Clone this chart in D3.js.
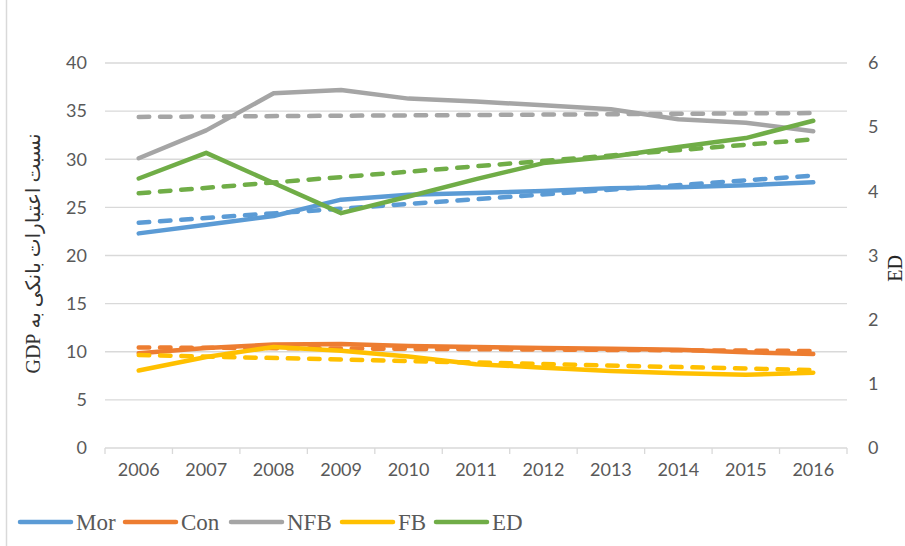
<!DOCTYPE html>
<html>
<head>
<meta charset="utf-8">
<script src="https://cdn.jsdelivr.net/npm/d3@7.9.0/dist/d3.min.js"></script>
<style>
  body { margin: 0; background: #fff; }
  svg { display: block; }
</style>
</head>
<body>
<div id="chart"></div>
<script>
// values
const years = ["2006", "2007", "2008", "2009", "2010", "2011", "2012", "2013", "2014", "2015", "2016"];
const mor = [22.3, 23.2, 24.1, 25.8, 26.3, 26.5, 26.7, 27.0, 27.1, 27.3, 27.6];
const con = [9.85, 10.4, 10.75, 10.8, 10.6, 10.5, 10.4, 10.3, 10.2, 9.95, 9.77];
const nfb = [30.1, 33.0, 36.85, 37.2, 36.3, 36.0, 35.6, 35.2, 34.15, 33.8, 32.9];
const fb = [8.05, 9.45, 10.5, 10.1, 9.5, 8.7, 8.35, 8.0, 7.76, 7.6, 7.83];
const ed = [4.2, 4.6, 4.13, 3.66, 3.92, 4.19, 4.44, 4.54, 4.69, 4.83, 5.1];

// linear trendlines: value at 2006 and at 2016
const morTrend = [23.4, 28.3];
const conTrend = [10.45, 10.08];
const nfbTrend = [34.4, 34.8];
const fbTrend = [9.66, 8.1];
const edTrend = [3.97, 4.81];

const leftTicks = [0, 5, 10, 15, 20, 25, 30, 35, 40];
const rightTicks = [0, 1, 2, 3, 4, 5, 6];

const series = [
    { name: "Mor", values: mor, trend: morTrend, color: "#5B9BD5", axis: "left" },
    { name: "Con", values: con, trend: conTrend, color: "#ED7D31", axis: "left" },
    { name: "NFB", values: nfb, trend: nfbTrend, color: "#A5A5A5", axis: "left" },
    { name: "FB", values: fb, trend: fbTrend, color: "#FFC000", axis: "left" },
    { name: "ED", values: ed, trend: edTrend, color: "#70AD47", axis: "right" }
];

const width = 905, height = 546;
const plot = { left: 105, right: 847, top: 63, bottom: 448 };

const svg = d3.select("#chart").append("svg")
    .attr("width", width)
    .attr("height", height);

// chart frame edge on the left
svg.append("line")
    .attr("x1", 6.5).attr("x2", 6.5)
    .attr("y1", 0).attr("y2", height)
    .attr("stroke", "#d9d9d9").attr("stroke-width", 1.5);

const x = d3.scaleBand().domain(years).range([plot.left, plot.right]);
const yL = d3.scaleLinear().domain([0, 40]).range([plot.bottom, plot.top]);
const yR = d3.scaleLinear().domain([0, 6]).range([plot.bottom, plot.top]);

const tickFont = "Lato, 'Open Sans', sans-serif";
const tickSize = 18;

// gridlines
svg.append("g")
    .selectAll("line")
    .data(leftTicks.filter(d => d > 0))
    .join("line")
    .attr("x1", plot.left).attr("x2", plot.right)
    .attr("y1", d => yL(d)).attr("y2", d => yL(d))
    .attr("stroke", "#d9d9d9").attr("stroke-width", 1.3);

// left axis labels
const gL = svg.append("g")
    .attr("transform", `translate(${plot.left},0)`)
    .call(d3.axisLeft(yL).tickValues(leftTicks).tickSize(0).tickPadding(18));
gL.select(".domain").remove();
gL.selectAll("text")
    .attr("font-family", tickFont).attr("font-size", tickSize).attr("fill", "#595959");

// right axis labels
const gR = svg.append("g")
    .attr("transform", `translate(${plot.right},0)`)
    .call(d3.axisRight(yR).tickValues(rightTicks).tickFormat(d3.format("d")).tickSize(0).tickPadding(21));
gR.select(".domain").remove();
gR.selectAll("text")
    .attr("font-family", tickFont).attr("font-size", tickSize).attr("fill", "#595959");

// category axis
const gX = svg.append("g")
    .attr("transform", `translate(0,${plot.bottom})`)
    .call(d3.axisBottom(x).tickSize(0).tickPadding(15));
gX.select(".domain").remove();
gX.selectAll("text")
    .attr("font-family", tickFont).attr("font-size", tickSize).attr("fill", "#595959");

svg.append("line")
    .attr("x1", plot.left).attr("x2", plot.right)
    .attr("y1", plot.bottom).attr("y2", plot.bottom)
    .attr("stroke", "#d9d9d9").attr("stroke-width", 1.3);

const boundaries = years.map(d => x(d)).concat([x.range()[1]]);
svg.append("g")
    .selectAll("line")
    .data(boundaries)
    .join("line")
    .attr("x1", d => d).attr("x2", d => d)
    .attr("y1", plot.bottom).attr("y2", plot.bottom + 6)
    .attr("stroke", "#d9d9d9").attr("stroke-width", 1.3);

// axis titles
svg.append("text")
    .attr("transform", `translate(40,${(plot.top + plot.bottom) / 2 - 2}) rotate(-90)`)
    .attr("text-anchor", "middle")
    .attr("direction", "rtl")
    .attr("font-family", "'Liberation Serif', 'DejaVu Sans', serif")
    .attr("font-size", 20)
    .attr("fill", "#333")
    .text("نسبت اعتبارات بانکی به GDP");

svg.append("text")
    .attr("transform", `translate(902,${(plot.top + plot.bottom) / 2 + 13}) rotate(-90)`)
    .attr("text-anchor", "middle")
    .attr("font-family", "'Liberation Serif', serif")
    .attr("font-size", 20)
    .attr("fill", "#262626")
    .text("ED");

// lines
const cx = d => x(d) + x.bandwidth() / 2;
const lineL = d3.line().x(d => cx(d.year)).y(d => yL(d.value));
const lineR = d3.line().x(d => cx(d.year)).y(d => yR(d.value));

const lines = svg.append("g");
series.forEach(s => {
    const gen = s.axis === "left" ? lineL : lineR;
    const pts = years.map((yr, i) => ({ year: yr, value: s.values[i] }));
    lines.append("path")
        .datum(pts)
        .attr("fill", "none")
        .attr("stroke", s.color)
        .attr("stroke-width", 4.5)
        .attr("stroke-linejoin", "round")
        .attr("stroke-linecap", "round")
        .attr("d", gen);

    const tpts = [
        { year: years[0], value: s.trend[0] },
        { year: years[years.length - 1], value: s.trend[1] }
    ];
    lines.append("path")
        .datum(tpts)
        .attr("fill", "none")
        .attr("stroke", s.color)
        .attr("stroke-width", 4.5)
        .attr("stroke-linecap", "round")
        .attr("stroke-dasharray", "10.5 10.8")
        .attr("d", gen);
});

// legend
const legendX = [18, 123, 229, 340, 434];
const legend = svg.append("g").attr("transform", "translate(0,522)");
series.forEach((s, i) => {
    legend.append("line")
        .attr("x1", legendX[i] + 2).attr("x2", legendX[i] + 53)
        .attr("y1", 0).attr("y2", 0)
        .attr("stroke", s.color)
        .attr("stroke-width", 4.5)
        .attr("stroke-linecap", "round");
    legend.append("text")
        .attr("x", legendX[i] + 58)
        .attr("y", 8)
        .attr("font-family", "'Liberation Serif', serif")
        .attr("font-size", 23)
        .attr("fill", "#595959")
        .text(s.name);
});
</script>
</body>
</html>
